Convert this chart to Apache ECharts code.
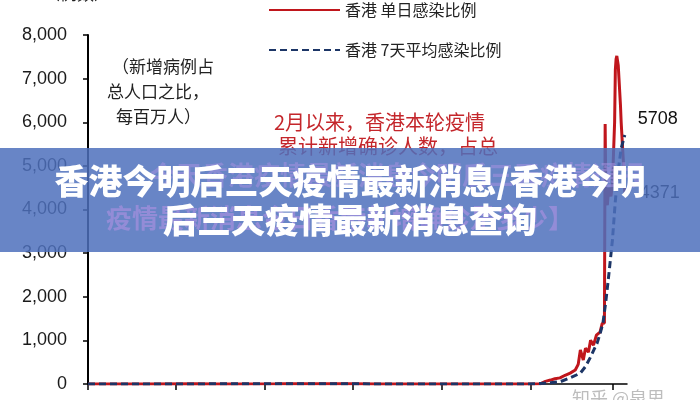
<!DOCTYPE html>
<html><head><meta charset="utf-8">
<script src="https://cdn.jsdelivr.net/npm/echarts@6/dist/echarts.min.js"></script>
<style>html,body{margin:0;padding:0;background:#fff}#c{width:700px;height:400px}</style>
</head><body><div id="c"></div>
<script>
const seriesNames = ['香港 单日感染比例', '香港 7天平均感染比例'];
// x = day index from start of axis
const dailyDays = [0, 40, 80, 150, 175, 200, 260, 280, 300, 320, 340, 360, 400, 450, 500, 560, 600, 621, 628, 635, 641, 648, 655, 662, 669, 673, 676, 680, 683, 687, 690, 694, 698, 703, 706, 709, 710, 711, 713, 715, 718, 720, 722, 723, 724, 725, 726, 727, 728, 729, 730, 731, 732, 733, 734, 735, 736, 737];
const dailyValues = [0, 1, 2, 3, 2, 1, 4, 6, 5, 3, 6, 5, 2, 1, 0, 0, 2, 5, 60, 90, 120, 140, 200, 250, 320, 450, 780, 550, 820, 730, 1000, 890, 1120, 1190, 1390, 1400, 5960, 4200, 4100, 4500, 4300, 4600, 4600, 6000, 7200, 7450, 7520, 7500, 7300, 7000, 6700, 6400, 6000, 5700, 5400, 5100, 4800, 4371];
const avgDays = [0, 80, 175, 280, 340, 400, 500, 600, 621, 635, 648, 662, 676, 683, 690, 695, 699, 703, 707, 711, 715, 720, 724, 728, 732, 737];
const avgValues = [0, 2, 3, 6, 5, 2, 0, 1, 10, 30, 50, 140, 250, 400, 620, 800, 940, 1150, 1400, 1900, 2500, 3300, 4200, 4900, 5400, 5708];
const xTickDays = [0, 120, 242, 363, 485, 608, 721];
const yMin = 0, yMax = 8000, yStep = 1000;
const unitText = '（例数）';
const noteLines = ['（新增病例占', '总人口之比，', '每百万人）'];
const redNoteLines = ['2月以来，香港本轮疫情', '累计新增确诊人数，占总'];
const titleLines = ['香港今明后三天疫情最新消息/香港今明', '后三天疫情最新消息查询'];
const ghostLines = ['今天香港疫情最新消息今明后三天疫情通报', '疫情最新消息今日香港新增确诊是多少】'];
const watermark = '知乎 @泉思';

const zip = (xs, ys) => xs.map((x, i) => [x, ys[i]]);
const cjk = '"Noto Sans CJK SC", sans-serif';
const num = '"Liberation Sans", Arial, sans-serif';

const chart = echarts.init(document.getElementById('c'), null, { renderer: 'canvas' });
chart.setOption({
  animation: false,
  backgroundColor: '#fff',
  grid: { left: 88, right: 73, top: 35, bottom: 16, containLabel: false },
  legend: {
    orient: 'vertical', left: 263, top: -3, itemWidth: 71, itemHeight: 14, itemGap: 24,
    itemStyle: { opacity: 0 },
    textStyle: { fontSize: 16, color: '#222', fontFamily: cjk },
    data: seriesNames
  },
  xAxis: {
    type: 'value', min: 0, max: 740,
    axisLine: { show: true, onZero: false, lineStyle: { color: '#000', width: 1.5 } },
    axisTick: { show: true, length: 6, customValues: xTickDays, lineStyle: { color: '#000', width: 1.5 } },
    axisLabel: { show: false },
    splitLine: { show: false }
  },
  yAxis: {
    type: 'value', min: yMin, max: yMax, interval: yStep,
    axisLine: { show: true, lineStyle: { color: '#000', width: 2 } },
    axisTick: { show: true, length: 5, lineStyle: { color: '#000', width: 1.5 } },
    axisLabel: { margin: 21, fontSize: 18, color: '#1a1a1a', fontFamily: num,
      formatter: v => v.toLocaleString('en-US') },
    splitLine: { show: false }
  },
  series: [
    {
      name: seriesNames[0], type: 'line', symbol: 'none', z: 3,
      lineStyle: { color: '#c0161c', width: 3 }, itemStyle: { color: '#c0161c' },
      endLabel: { show: true, distance: 15, formatter: p => p.value[1], fontSize: 18, color: '#111', fontFamily: num },
      data: zip(dailyDays, dailyValues)
    },
    {
      name: seriesNames[1], type: 'line', symbol: 'none', z: 4,
      lineStyle: { color: '#1c3566', width: 3, type: [7, 4] }, itemStyle: { color: '#1c3566' },
      endLabel: { show: true, distance: 13, offset: [0, -16], formatter: p => p.value[1], fontSize: 18, color: '#111', fontFamily: num },
      data: zip(avgDays, avgValues)
    }
  ],
  graphic: [
    { type: 'text', left: 43, top: -15, z: 10, style: { text: unitText, font: '17px ' + cjk, fill: '#222' } },
    { type: 'text', x: 112, y: 67, z: 10, style: { text: noteLines[0], font: '17px ' + cjk, fill: '#222', textVerticalAlign: 'middle' } },
    { type: 'text', x: 107, y: 92, z: 10, style: { text: noteLines[1], font: '17px ' + cjk, fill: '#222', textVerticalAlign: 'middle' } },
    { type: 'text', x: 116, y: 117, z: 10, style: { text: noteLines[2], font: '17px ' + cjk, fill: '#222', textVerticalAlign: 'middle' } },
    { type: 'text', x: 274, y: 122, z: 10, style: { text: redNoteLines[0], font: '20px ' + cjk, fill: '#c4262b', textVerticalAlign: 'middle' } },
    { type: 'text', x: 278, y: 146, z: 10, style: { text: redNoteLines[1], font: '20px ' + cjk, fill: '#c4262b', textVerticalAlign: 'middle' } },
    { type: 'text', x: 572, y: 389, z: 10, style: { text: watermark, font: '18px ' + cjk, fill: '#bdbdbd' } },
    { type: 'rect', z: 100, shape: { x: 0, y: 148, width: 700, height: 104 }, style: { fill: 'rgba(78,112,188,0.85)' } },
    { type: 'text', x: 397, y: 175, z: 101, style: { text: ghostLines[0], font: 'bold 26px ' + cjk, fill: 'rgba(170,145,225,0.5)', textAlign: 'center', textVerticalAlign: 'middle' } },
    { type: 'text', x: 340, y: 218, z: 101, style: { text: ghostLines[1], font: 'bold 26px ' + cjk, fill: 'rgba(170,145,225,0.65)', textAlign: 'center', textVerticalAlign: 'middle' } },
    { type: 'text', x: 350, y: 181, z: 102, style: { text: titleLines[0], font: '900 34px ' + cjk, fill: '#fff', textAlign: 'center', textVerticalAlign: 'middle', shadowColor: 'rgba(0,0,0,0.25)', shadowBlur: 2, shadowOffsetX: 1, shadowOffsetY: 1 } },
    { type: 'text', x: 350, y: 220, z: 102, style: { text: titleLines[1], font: '900 34px ' + cjk, fill: '#fff', textAlign: 'center', textVerticalAlign: 'middle', shadowColor: 'rgba(0,0,0,0.25)', shadowBlur: 2, shadowOffsetX: 1, shadowOffsetY: 1 } }
  ]
});
</script></body></html>
